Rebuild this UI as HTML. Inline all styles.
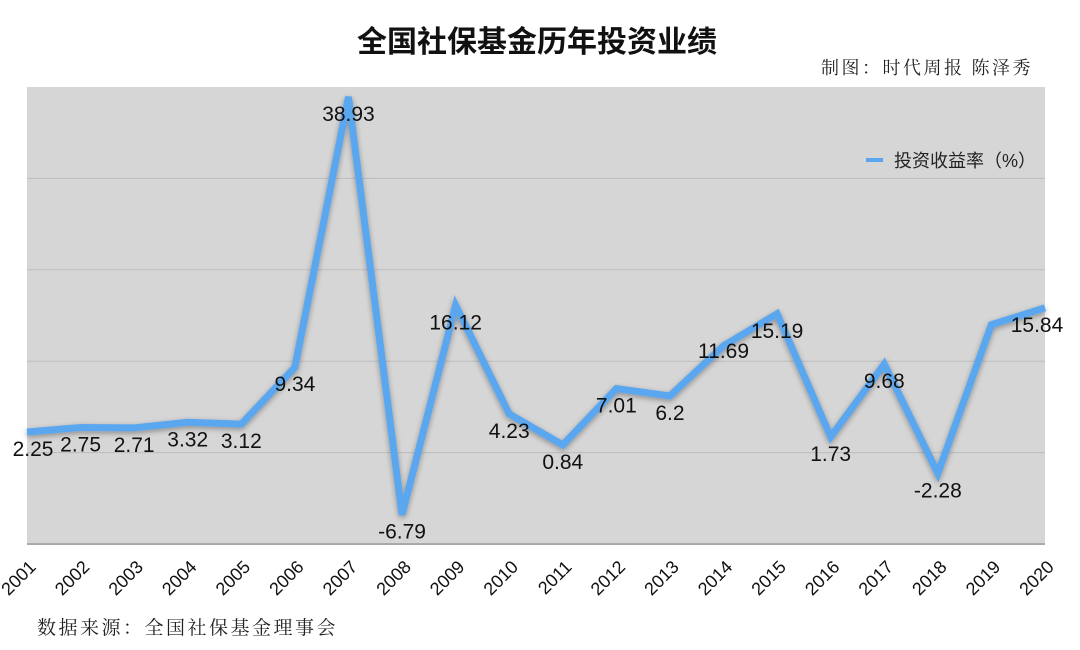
<!DOCTYPE html>
<html><head><meta charset="utf-8">
<style>
body{margin:0;background:#fff;width:1080px;height:650px;overflow:hidden;font-family:"Liberation Sans","Noto Sans CJK SC",sans-serif;}
svg{display:block}
</style></head>
<body>
<svg width="1080" height="650" xmlns="http://www.w3.org/2000/svg">
<defs>
<filter id="sh" x="-5%" y="-5%" width="110%" height="110%"><feGaussianBlur in="SourceAlpha" stdDeviation="3"/><feOffset dx="0" dy="2"/><feComponentTransfer><feFuncA type="linear" slope="0.35"/></feComponentTransfer><feMerge><feMergeNode/><feMergeNode in="SourceGraphic"/></feMerge></filter>
</defs>
<text x="537" y="52" text-anchor="middle" font-size="30" font-weight="bold" font-family="'Liberation Sans','Noto Sans CJK SC',sans-serif" fill="#111">全国社保基金历年投资业绩</text>
<text x="1033" y="74" text-anchor="end" font-size="18" letter-spacing="2.5" font-family="'Liberation Serif','Noto Serif CJK SC',serif" fill="#222">制图：时代周报 陈泽秀</text>
<rect x="27" y="87" width="1018" height="457" fill="#d6d6d6"/>
<g id="grid"></g>
<g id="series"></g>
<g id="labels"></g>
<g id="xlabels"></g>
<g>
<line x1="866" y1="160" x2="883" y2="160" stroke="#5aa7f0" stroke-width="4"/>
<text x="894" y="167" font-size="18" fill="#222" font-family="'Liberation Sans','Noto Sans CJK SC',sans-serif">投资收益率（%）</text>
</g>
<text x="37" y="634" font-size="19" letter-spacing="2.5" font-family="'Liberation Serif','Noto Serif CJK SC',serif" fill="#222">数据来源：全国社保基金理事会</text>
</svg>
<script>
const years=["2001","2002","2003","2004","2005","2006","2007","2008","2009","2010","2011","2012","2013","2014","2015","2016","2017","2018","2019","2020"];
const returns=[2.25,2.75,2.71,3.32,3.12,9.34,38.93,-6.79,16.12,4.23,0.84,7.01,6.2,11.69,15.19,1.73,9.68,-2.28,14.0,15.84];
const valueLabels=["2.25","2.75","2.71","3.32","3.12","9.34","38.93","-6.79","16.12","4.23","0.84","7.01","6.2","11.69","15.19","1.73","9.68","-2.28","","15.84"];
const yTicks=[-10,0,10,20,30,40];
const NS="http://www.w3.org/2000/svg";
const x0=27,x1=1045,yTop=87,yBot=544,yMin=-10,yMax=40;
function xs(i){return x0+i*(x1-x0)/(years.length-1);}
function ys(v){return yBot-(v-yMin)/(yMax-yMin)*(yBot-yTop);}
const grid=document.getElementById('grid');
yTicks.forEach(t=>{
 if(t===yMax) return;
 const l=document.createElementNS(NS,'line');
 
 
 l.setAttribute('x1',x0);l.setAttribute('x2',x1);
 l.setAttribute('y1',ys(t));l.setAttribute('y2',ys(t));
 l.setAttribute('stroke',t===yMin?'#aaa':'#bdbdbd');l.setAttribute('stroke-width',t===yMin?2:1);
 grid.appendChild(l);
});
const pts=returns.map((v,i)=>xs(i)+','+ys(v)).join(' ');
const pl=document.createElementNS(NS,'polyline');


pl.setAttribute('points',pts);
pl.setAttribute('fill','none');pl.setAttribute('stroke','#5aa7f0');pl.setAttribute('stroke-width','7');
pl.setAttribute('stroke-linejoin','miter');pl.setAttribute('filter','url(#sh)');
document.getElementById('series').appendChild(pl);
const lg=document.getElementById('labels');
returns.forEach((v,i)=>{
 if(!valueLabels[i]) return;
 const t=document.createElementNS(NS,'text');
 
 
 let dx=0; if(i===0) dx=6; if(i===years.length-1) dx=-8;
 const off=(i===13)?12:24;
 t.setAttribute('x',xs(i)+dx);t.setAttribute('y',ys(v)+off);
 t.setAttribute('text-anchor','middle');t.setAttribute('font-size','21');t.setAttribute('fill','#111');
 t.textContent=valueLabels[i];
 lg.appendChild(t);
});
const xl=document.getElementById('xlabels');
years.forEach((y,i)=>{
 const t=document.createElementNS(NS,'text');
 
 
 const x=xs(i)+10,yy=568;
 t.setAttribute('x',x);t.setAttribute('y',yy);
 t.setAttribute('text-anchor','end');t.setAttribute('font-size','18');t.setAttribute('fill','#111');
 t.setAttribute('transform','rotate(-45 '+x+' '+yy+')');
 t.textContent=y;
 xl.appendChild(t);
});
</script>
</body></html>
